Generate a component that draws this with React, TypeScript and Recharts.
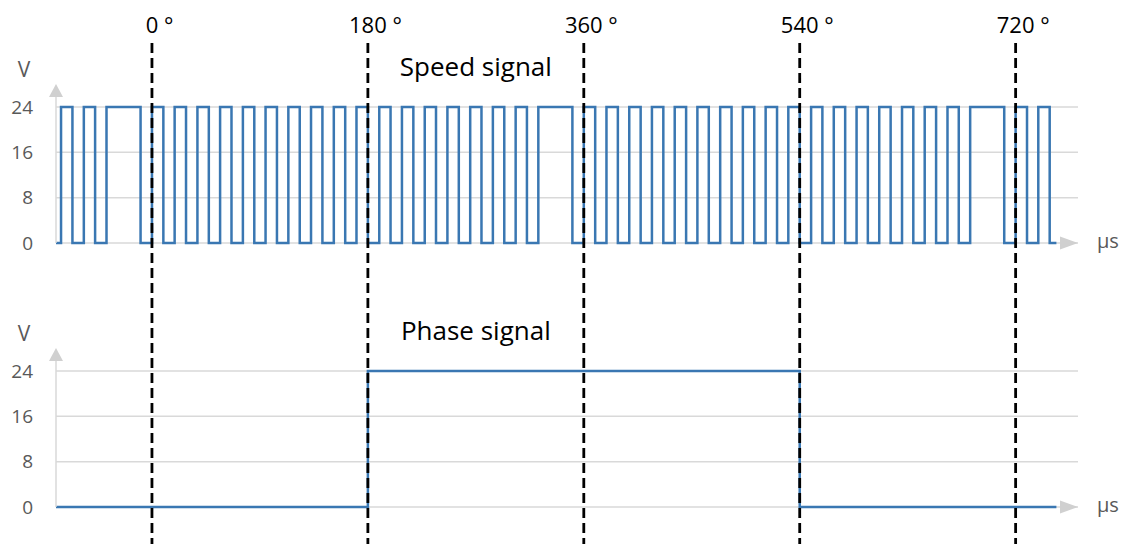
import React from 'react';
import { LineChart, Line, XAxis, YAxis, CartesianGrid, ReferenceLine, ReferenceDot } from 'recharts';

// crank angle in degrees, voltage in V
const angleTicks = [0, 180, 360, 540, 720];
const voltTicks = [0, 8, 16, 24];
const HIGH = 24;
const traceStart = -80;
const traceEnd = 754;
const axisEnd = 772;

// [rise, fall] of every tooth pulse
const speedHighs: [number, number][] = [
  [-75.8, -66.3], [-56.8, -47.4], [-37.9, -9.5],
  [0, 9.5], [18.9, 28.4], [37.9, 47.4], [56.8, 66.3], [75.8, 85.3],
  [94.7, 104.2], [113.7, 123.2], [132.6, 142.1], [151.6, 161.1], [170.5, 180],
  [189.5, 198.9], [208.4, 217.9], [227.4, 236.8], [246.3, 255.8], [265.3, 274.7],
  [284.2, 293.7], [303.2, 312.6], [322.1, 350.5],
  [360, 369.5], [378.9, 388.4], [397.9, 407.4], [416.8, 426.3], [435.8, 445.3],
  [454.7, 464.2], [473.7, 483.2], [492.6, 502.1], [511.6, 521.1], [530.5, 540],
  [549.5, 558.9], [568.4, 577.9], [587.4, 596.8], [606.3, 615.8], [625.3, 634.7],
  [644.2, 653.7], [663.2, 672.6], [682.1, 710.5],
  [720, 729.5], [738.9, 748.4],
];

const phaseHighs: [number, number][] = [[180, 540]];

const toSteps = (highs: [number, number][]) => {
  const pts = [{ t: traceStart, v: 0 }];
  highs.forEach(([a, b]) => {
    pts.push({ t: a, v: HIGH });
    pts.push({ t: b, v: 0 });
  });
  pts.push({ t: traceEnd, v: 0 });
  return pts;
};

const speedData = toSteps(speedHighs);
const phaseData = toSteps(phaseHighs);

const BLUE = '#3a77b2';
const GRID = '#d9d9d9';
const ARROW = '#d0d0d0';
const TEXT = '#595959';
const FONT = "'Open Sans', sans-serif";
const W = 1128;

const DegreeTick = ({ x, y, payload }: any) => {
  const s = String(payload.value);
  return (
    <text x={x} y={y} dx={-s.length * 6.3} textAnchor="start" fill="#000" fontSize={22} fontFamily={FONT}>
      {s} °
    </text>
  );
};

const dashShape = (top: number, bottom: number, offset: number) => (props: any) => (
  <line
    x1={props.x1}
    x2={props.x1}
    y1={top}
    y2={bottom}
    stroke="#000"
    strokeWidth={2.8}
    strokeDasharray="10 5"
    strokeDashoffset={offset}
  />
);

const YArrow = (props: any) => {
  const { cx, cy } = props;
  return (
    <g>
      <line x1={cx} x2={cx} y1={cy} y2={cy - 11} stroke={GRID} strokeWidth={1.5} />
      <polygon points={`${cx - 7},${cy - 10} ${cx + 7},${cy - 10} ${cx},${cy - 23}`} fill={ARROW} />
      <text x={cx - 32} y={cy - 30} textAnchor="middle" fill={TEXT} fontSize={21} fontFamily={FONT}>V</text>
    </g>
  );
};

const XArrow = (props: any) => {
  const { cx, cy } = props;
  return (
    <g>
      <polygon points={`${cx - 18},${cy - 6.5} ${cx - 18},${cy + 6.5} ${cx},${cy}`} fill={ARROW} />
      <text x={cx + 19} y={cy + 5} textAnchor="start" fill={TEXT} fontSize={20} fontFamily={FONT}>µs</text>
    </g>
  );
};

const titleShape = (title: string) => (props: any) => (
  <text x={props.cx} y={props.cy - 31} textAnchor="middle" fill="#000" fontSize={26} fontFamily={FONT}>
    {title}
  </text>
);

interface PanelProps {
  data: { t: number; v: number }[];
  title: string;
  height: number;
  bottom: number;
  showAngles?: boolean;
  dashTop: number;
  dashOffset: number;
}

function SignalPanel({ data, title, height, bottom, showAngles, dashTop, dashOffset }: PanelProps) {
  return (
    <LineChart width={W} height={height} data={data} margin={{ top: 106, right: 50, bottom, left: 0 }}>
      <CartesianGrid vertical={false} stroke={GRID} strokeWidth={1.5} />
      <XAxis
        dataKey="t"
        type="number"
        domain={[traceStart, axisEnd]}
        ticks={angleTicks}
        interval={0}
        orientation="top"
        height={1}
        axisLine={false}
        tickLine={false}
        tickSize={0}
        tickMargin={74}
        tick={showAngles ? <DegreeTick /> : false}
      />
      <YAxis
        type="number"
        domain={[0, HIGH]}
        ticks={voltTicks}
        width={56}
        tickLine={false}
        tickSize={0}
        tickMargin={23}
        axisLine={{ stroke: GRID, strokeWidth: 1.5 }}
        tick={{ fill: TEXT, fontSize: 19, fontFamily: FONT }}
      />
      <Line
        type="stepAfter"
        dataKey="v"
        stroke={BLUE}
        strokeWidth={2.5}
        dot={false}
        isAnimationActive={false}
      />
      {angleTicks.map((a) => (
        <ReferenceLine key={a} x={a} shape={dashShape(dashTop, height, dashOffset)} />
      ))}
      <ReferenceDot x={traceStart} y={HIGH} r={0} shape={YArrow} />
      <ReferenceDot x={axisEnd} y={0} r={0} shape={XArrow} />
      <ReferenceDot x={270} y={HIGH} r={0} shape={titleShape(title)} />
    </LineChart>
  );
}

export default function App() {
  return (
    <div style={{ position: 'absolute', left: 0, top: 0, width: W, height: 544, background: '#fff', fontFamily: FONT }}>
      <div style={{ position: 'absolute', left: 0, top: 0 }}>
        <SignalPanel data={speedData} title="Speed signal" height={264} bottom={21} showAngles dashTop={43} dashOffset={0} />
      </div>
      <div style={{ position: 'absolute', left: 0, top: 264 }}>
        <SignalPanel data={phaseData} title="Phase signal" height={280} bottom={37} dashTop={0} dashOffset={(264 - 43) % 15} />
      </div>
    </div>
  );
}
